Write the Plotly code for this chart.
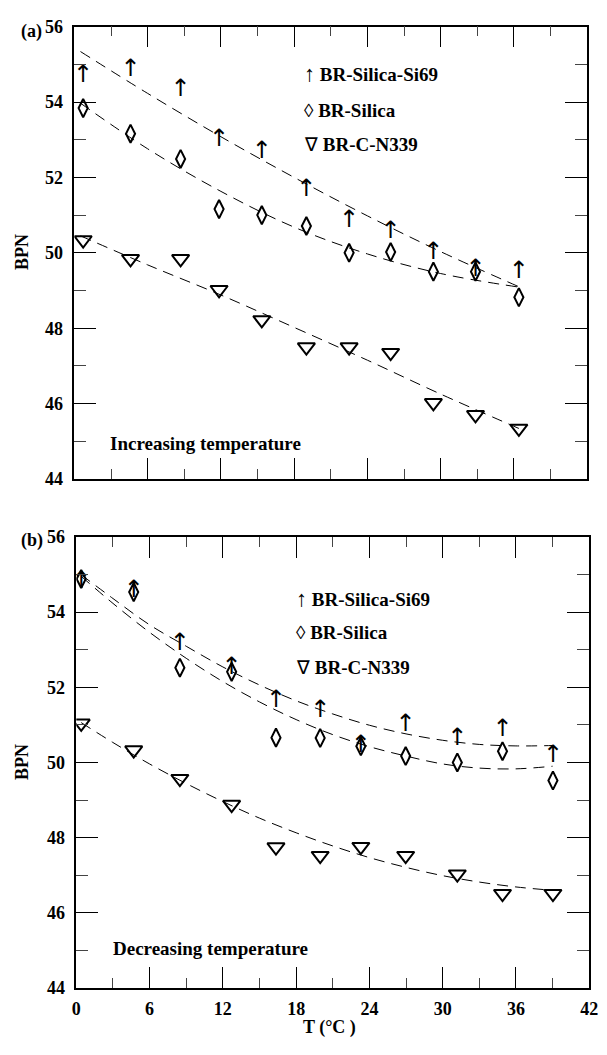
import plotly.graph_objects as go

# ---------------- Panel (a): increasing temperature ----------------
a_T = [0.72, 4.6, 8.7, 11.85, 15.35, 19.0, 22.5, 25.9, 29.4, 32.85, 36.4]
a_si69 = [54.7, 54.85, 54.31, 52.99, 52.67, 51.67, 50.85, 50.55, 50.0, 49.55, 49.48]
a_silica = [53.84, 53.16, 52.49, 51.16, 51.0, 50.71, 50.0, 50.02, 49.5, 49.5, 48.82]
a_n339 = [50.34, 49.84, 49.84, 49.02, 48.22, 47.5, 47.5, 47.35, 46.02, 45.7, 45.34]

a_fit_T = [0.5, 6, 12, 18, 24, 30, 36.4]
a_fit_si69 = [55.34, 54.23, 53.08, 52.00, 50.98, 50.03, 49.10]
a_fit_silica = [53.97, 52.76, 51.63, 50.68, 49.97, 49.45, 49.09]
a_fit_n339 = [50.45, 49.68, 48.88, 48.02, 47.15, 46.25, 45.34]

# ---------------- Panel (b): decreasing temperature ----------------
b_T = [0.4, 4.7, 8.48, 12.72, 16.35, 19.97, 23.3, 26.97, 31.2, 34.9, 39.03]
b_si69 = [54.8, 54.55, 53.16, 52.5, 51.64, 51.38, 50.45, 51.0, 50.63, 50.85, 50.16]
b_silica = [54.88, 54.53, 52.52, 52.41, 50.66, 50.65, 50.43, 50.17, 50.0, 50.3, 49.52]
b_n339 = [51.04, 50.33, 49.57, 48.88, 47.75, 47.52, 47.76, 47.52, 47.03, 46.51, 46.51]

b_fit_T = [0.4, 3, 6, 9, 12, 15, 18, 21, 24, 27, 30, 33, 36, 39]
b_fit_si69 = [54.99, 54.36, 53.66, 53.09, 52.54, 52.06, 51.64, 51.29, 50.99, 50.76, 50.59, 50.48, 50.44, 50.45]
b_fit_silica = [54.95, 54.23, 53.46, 52.77, 52.15, 51.61, 51.14, 50.74, 50.42, 50.17, 49.96, 49.85, 49.83, 49.9]
b_fit_n339 = [51.06, 50.53, 49.96, 49.44, 48.96, 48.52, 48.13, 47.78, 47.47, 47.21, 46.99, 46.82, 46.69, 46.6]

x_ticks = [0, 6, 12, 18, 24, 30, 36, 42]
y_ticks = [44, 46, 48, 50, 52, 54, 56]
legend_symbols = ["\u2191", "\u25CA", "\u2207"]
legend_labels = ["BR-Silica-Si69", "BR-Silica", "BR-C-N339"]
panel_notes = ["Increasing temperature", "Decreasing temperature"]

W, H = 607, 1055
SERIF = "Liberation Serif, Times New Roman, serif"

fig = go.Figure()

dash = "11px,7px"

def add_panel(T, si69, silica, n339, fT, fsi, fsil, fn, xa, ya):
    for fy in (fsi, fsil, fn):
        fig.add_trace(go.Scatter(x=fT, y=fy, mode="lines", xaxis=xa, yaxis=ya,
                                 line=dict(color="black", width=1, dash=dash, shape="spline"),
                                 showlegend=False, hoverinfo="skip"))
    fig.add_trace(go.Scatter(x=T, y=silica, mode="markers", xaxis=xa, yaxis=ya,
                             marker=dict(symbol="diamond-tall-open", size=13,
                                         color="black", line=dict(width=2, color="black")),
                             showlegend=False))
    fig.add_trace(go.Scatter(x=T, y=n339, mode="markers", xaxis=xa, yaxis=ya,
                             marker=dict(symbol="triangle-down-open", size=15,
                                         color="black", line=dict(width=2, color="black")),
                             showlegend=False))
    fig.add_trace(go.Scatter(x=T, y=si69, mode="text", xaxis=xa, yaxis=ya,
                             text=["\u2191"] * len(T), textposition="middle center",
                             textfont=dict(family="DejaVu Sans", size=24, color="black"),
                             showlegend=False))

add_panel(a_T, a_si69, a_silica, a_n339, a_fit_T, a_fit_si69, a_fit_silica, a_fit_n339, "x", "y")
add_panel(b_T, b_si69, b_silica, b_n339, b_fit_T, b_fit_si69, b_fit_silica, b_fit_n339, "x2", "y2")

tickfont = dict(family=SERIF, size=18, color="black", weight="bold")

def xaxis_style(domain, labels):
    return dict(domain=domain, range=[0, 42], tickmode="array", tickvals=x_ticks,
                ticktext=[str(t) for t in x_ticks], showticklabels=labels,
                ticks="inside", ticklen=21, tickwidth=1.2, tickcolor="black",
                minor=dict(dtick=3, ticks="inside", ticklen=10, tickwidth=1.2, tickcolor="#444"),
                showline=True, linecolor="black", linewidth=1.6, mirror="ticks",
                showgrid=False, zeroline=False, tickfont=tickfont, ticklabelstandoff=4)

def yaxis_style(domain, anchor):
    return dict(domain=domain, range=[44, 56], tickmode="array", tickvals=y_ticks,
                ticktext=[str(t) for t in y_ticks], anchor=anchor,
                ticks="inside", ticklen=22, tickwidth=1.2, tickcolor="black",
                minor=dict(dtick=1, ticks="inside", ticklen=12, tickwidth=1.2, tickcolor="#444"),
                showline=True, linecolor="black", linewidth=1.6, mirror="ticks",
                showgrid=False, zeroline=False, tickfont=tickfont, ticklabelstandoff=6)

ya_dom = [1 - 478 / H, 1 - 17 / H]
yb_dom = [1 - 997 / H, 1 - 537 / H]

fig.update_layout(
    width=W, height=H, margin=dict(l=0, r=0, t=0, b=0),
    paper_bgcolor="white", plot_bgcolor="white", showlegend=False,
    xaxis=dict(xaxis_style([71 / W, 596 / W], False), anchor="y"),
    yaxis=yaxis_style(ya_dom, "x"),
    xaxis2=dict(xaxis_style([73 / W, 598 / W], True), anchor="y2"),
    yaxis2=yaxis_style(yb_dom, "x2"),
)

ann = []
def px_ann(text, x, y, size=18, xanchor="center", angle=0):
    ann.append(dict(text=text, x=x / W, y=1 - y / H, xref="paper", yref="paper",
                    showarrow=False, xanchor=xanchor, yanchor="middle", textangle=angle,
                    font=dict(family=SERIF, size=size, color="black", weight="bold")))

px_ann("(a)", 27, 22)
px_ann("(b)", 28, 541)
px_ann("BPN", 18, 247, angle=-90)
px_ann("BPN", 18, 767, angle=-90)
px_ann("T (\u00B0C )", 332, 1037)
for i, (sym, lab) in enumerate(zip(legend_symbols, legend_labels)):
    sz = 22 if i == 0 else 19
    txt = "<span style='font-size:%dpx;font-weight:normal'>%s</span> %s" % (sz, sym, lab)
    px_ann(txt, 304, [65, 102, 137][i], size=19, xanchor="left")
    px_ann(txt, 296, [600, 635, 670][i], size=19, xanchor="left")
px_ann(panel_notes[0], 105, 442, size=19, xanchor="left")
px_ann(panel_notes[1], 108, 957, size=19, xanchor="left")

fig.update_layout(annotations=ann)
fig.write_html("out.html", config={"displayModeBar": False},
               post_script="document.body.style.margin='0';")
